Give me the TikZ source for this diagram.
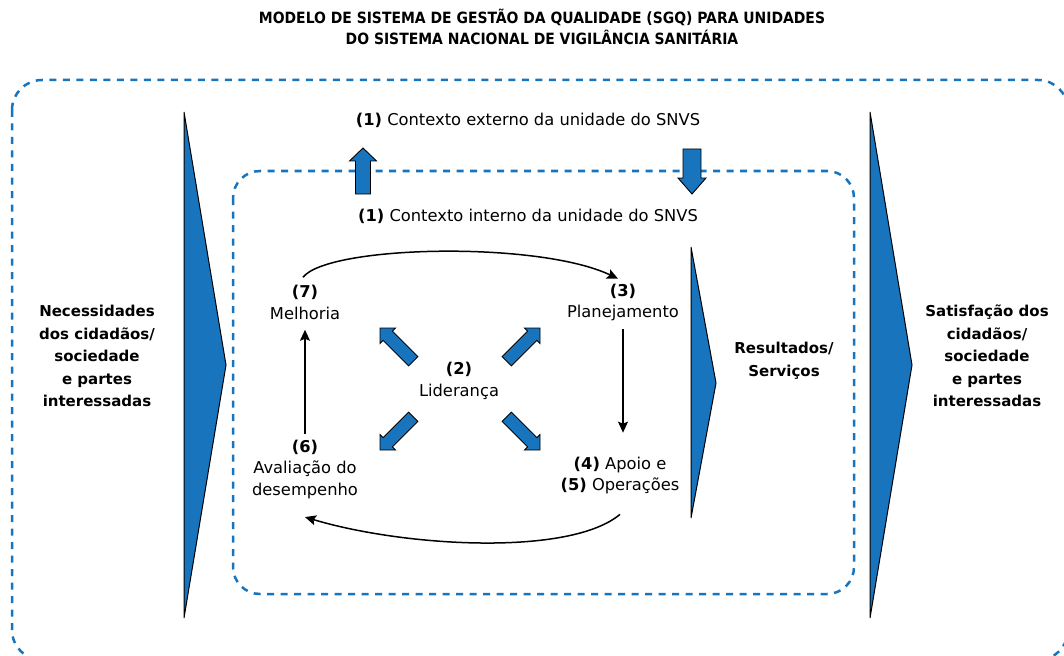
\documentclass[tikz,border=0pt]{standalone}
\usepackage{fontspec}
\setmainfont{DejaVu Sans}
\newfontfamily\condfont{DejaVu Sans Condensed}
\usetikzlibrary{arrows.meta,calc}
\definecolor{sgqblue}{RGB}{24,117,189}
\tikzset{
  dashbox/.style={draw=sgqblue, line width=2.5pt, dash pattern=on 7pt off 6.5pt, rounded corners=#1},
  wedge/.style={fill=sgqblue, draw=black, line width=1pt, line join=miter},
  blockfill/.style={fill=sgqblue, draw=black, line width=0.9pt, line join=miter},
  txt/.style={align=center, inner sep=0pt, font=\fontsize{16.3}{21.5}\selectfont},
  btxt/.style={align=center, inner sep=0pt, font=\fontsize{15}{22.5}\selectfont\bfseries},
  flow/.style={line width=1.5pt, -{Stealth[length=11pt,width=10pt,inset=2pt]}},
  pics/barrow/.style n args={4}{code={
    \draw[blockfill] (0,0) -- (-#2,-#3) -- (-#2,-#4) -- (-#1,-#4) -- (-#1,#4) -- (-#2,#4) -- (-#2,#3) -- cycle;}}
}
\begin{document}
\begin{tikzpicture}[x=1pt,y=-1pt]
\useasboundingbox (0,0) rectangle (1064,655);
\clip (0,0) rectangle (1064,655);
% title
\node[align=center, inner sep=0pt, font=\condfont\bfseries\fontsize{15.5}{21}\selectfont] (title) at (542,27)
  {MODELO DE SISTEMA DE GESTÃO DA QUALIDADE (SGQ) PARA UNIDADES\\DO SISTEMA NACIONAL DE VIGILÂNCIA SANITÁRIA};
% dashed boxes
\draw[dashbox=30pt] (12,80) rectangle (1068,660);
\draw[dashbox=27pt] (233,171) rectangle (854,594);
% big wedges
\draw[wedge] (184,112) -- (226,365) -- (184,618) -- cycle;
\draw[wedge] (870,112) -- (912,365) -- (870,618) -- cycle;
\draw[wedge] (691,247) -- (716,383) -- (691,518) -- cycle;
% context labels
\node[txt] (externo) at (528,120) {\textbf{(1)} Contexto externo da unidade do SNVS};
\node[txt] (interno) at (528,216) {\textbf{(1)} Contexto interno da unidade do SNVS};
\pic[rotate=90] at (363,148) {barrow={46}{13}{13.5}{7.5}};
\pic[rotate=270] at (692,194) {barrow={45}{16}{14}{9}};
% side texts
\node[btxt] (necess) at (97,356) {Necessidades\\dos cidadãos/\\sociedade\\e partes\\interessadas};
\node[btxt] (satisf) at (987,356) {Satisfação dos\\cidadãos/\\sociedade\\e partes\\interessadas};
\node[btxt] (result) at (784,361) {Resultados/\\Serviços};
% cycle nodes
\node[txt] (melhoria) at (305,302.5) {\textbf{(7)}\\Melhoria};
\node[txt] (planej) at (623,302.5) {\textbf{(3)}\\Planejamento};
\node[txt] (lider) at (459,381) {\textbf{(2)}\\Liderança};
\node[txt] (aval) at (305,469.5) {\textbf{(6)}\\Avaliação do\\desempenho};
\node[txt] (apoio) at (620,475.5) {\textbf{(4)} Apoio e\\\textbf{(5)} Operações};
% diagonal arrows
\pic[rotate=135] at (380,328) {barrow={47}{11}{11}{6.5}};
\pic[rotate=45] at (540,328) {barrow={47}{11}{11}{6.5}};
\pic[rotate=225] at (380,450) {barrow={47}{11}{11}{6.5}};
\pic[rotate=315] at (540,450) {barrow={47}{11}{11}{6.5}};
% flow connectors
\draw[flow] ($(melhoria.north)+(-2,-8)$) .. controls +(25,-32) and +(-80,-38) .. ($(planej.north)+(-5,-5)$);
\draw[flow] ($(planej.south)+(0,8)$) -- ($(apoio.north)+(3,-24)$);
\draw[flow] ($(apoio.south)+(0,20)$) .. controls +(-50,42) and +(100,30) .. ($(aval.south)+(0,18)$);
\draw[flow] ($(aval.north)+(0,-6)$) -- ($(melhoria.south)+(0,10)$);
\end{tikzpicture}
\end{document}
